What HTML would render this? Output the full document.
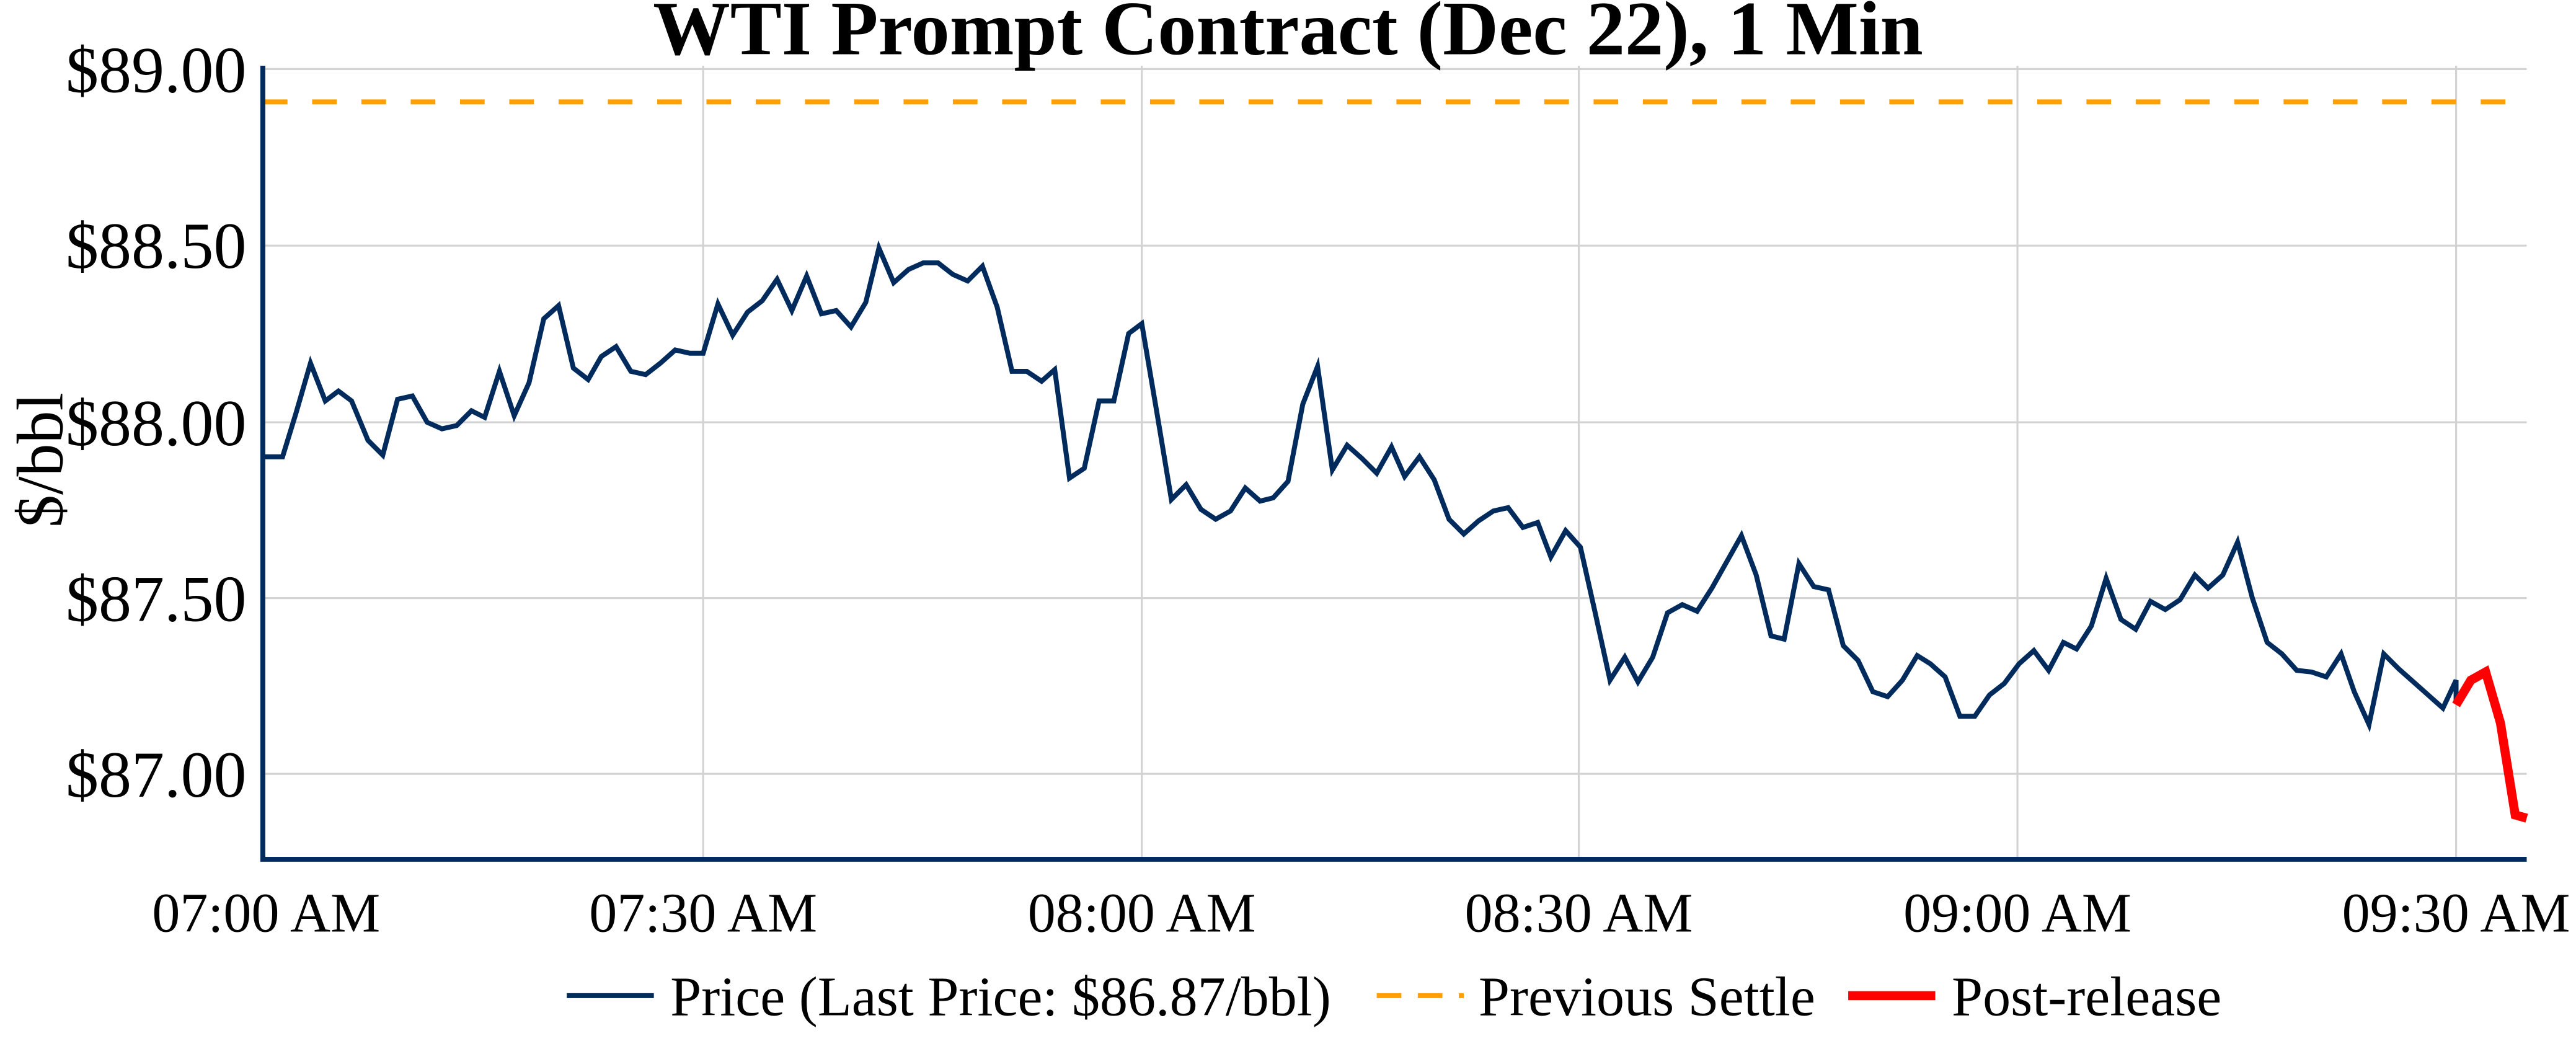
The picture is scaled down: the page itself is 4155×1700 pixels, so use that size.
<!DOCTYPE html>
<html><head><style>html,body{margin:0;padding:0;background:#fff}svg{display:block}</style></head>
<body>
<svg width="4155" height="1700" viewBox="0 0 1568 641.5" xmlns="http://www.w3.org/2000/svg" font-family="Liberation Serif, serif">
<rect width="1568" height="641.5" fill="#fff"/>
<g stroke="#d3d3d3" stroke-width="1.2">
<line x1="160" y1="42" x2="1538" y2="42"/><line x1="160" y1="149.5" x2="1538" y2="149.5"/><line x1="160" y1="257" x2="1538" y2="257"/><line x1="160" y1="364" x2="1538" y2="364"/><line x1="160" y1="471" x2="1538" y2="471"/>
<line x1="428" y1="40" x2="428" y2="523"/><line x1="695" y1="40" x2="695" y2="523"/><line x1="961" y1="40" x2="961" y2="523"/><line x1="1228" y1="40" x2="1228" y2="523"/><line x1="1495" y1="40" x2="1495" y2="523"/>
</g>
<line x1="160" y1="62" x2="1538" y2="62" stroke="#ffa000" stroke-width="3" stroke-dasharray="15,15"/>
<polyline fill="none" stroke="#002b5c" stroke-width="3" stroke-linejoin="miter" points="160,278 172,278 180,252 189,221 198,244 206,238 214,244 224,268 233,277 242,243 251,241 260,257 269,261 278,259 287,250 295,254 304,226 313,253 322,233 331,194 340,186 349,224 358,231 366,217 375,211 384,226 393,228 402,221 411,213 420,215 428,215 437,185 446,204 455,190 464,183 473,170 482,189 491,168 500,191 509,189 518,199 527,184 535,151 544,172 553,164 562,160 571,160 580,167 589,171 598,162 607,187 616,226 625,226 634,232 642,225 651,291 660,285 669,244 678,244 687,203 695,197 704,250 713,304 722,295 731,310 740,316 749,311 758,297 767,305 775,303 784,293 793,246 802,223 811,286 820,271 829,279 838,288 847,272 855,290 864,278 873,292 882,316 891,325 900,317 909,311 918,309 927,321 936,318 944,339 953,323 962,333 971,373 980,414 989,400 997,415 1006,400 1015,373 1024,368 1033,372 1042,358 1051,342 1060,326 1069,350 1078,387 1086,389 1095,343 1104,357 1113,359 1122,393 1131,402 1140,421 1149,424 1158,414 1167,399 1175,404 1184,412 1193,436 1202,436 1211,423 1220,416 1229,404 1238,396 1247,408 1256,391 1264,395 1273,381 1282,352 1291,377 1300,383 1309,366 1318,371 1327,365 1336,350 1344,358 1353,350 1362,330 1371,364 1380,391 1389,398 1398,408 1407,409 1416,412 1425,398 1433,421 1442,441 1451,398 1460,407 1469,415 1478,423 1487,431 1495,414 1495,428"/>
<polyline fill="none" stroke="#ff0000" stroke-width="5.5" points="1495,429 1504,414 1513,409 1522,440 1531,496 1538,498"/>
<line x1="160" y1="40" x2="160" y2="524" stroke="#002b5c" stroke-width="3"/>
<line x1="158.5" y1="523" x2="1538" y2="523" stroke="#002b5c" stroke-width="3"/>
<text x="784" y="33" text-anchor="middle" font-size="47" font-weight="bold">WTI Prompt Contract (Dec 22), 1 Min</text>
<g font-size="40" text-anchor="end">
<text x="150" y="56">$89.00</text><text x="150" y="163">$88.50</text><text x="150" y="271">$88.00</text><text x="150" y="378">$87.50</text><text x="150" y="485">$87.00</text>
</g>
<g font-size="34" text-anchor="middle">
<text x="162" y="567">07:00 AM</text><text x="428" y="567">07:30 AM</text><text x="695" y="567">08:00 AM</text><text x="961" y="567">08:30 AM</text><text x="1228" y="567">09:00 AM</text><text x="1495" y="567">09:30 AM</text>
</g>
<text transform="translate(38,280) rotate(-90)" font-size="40" text-anchor="middle">$/bbl</text>
<g font-size="34">
<line x1="345" y1="606" x2="398" y2="606" stroke="#002b5c" stroke-width="3"/>
<text x="408" y="618">Price (Last Price: $86.87/bbl)</text>
<line x1="838" y1="606" x2="891" y2="606" stroke="#ffa000" stroke-width="3" stroke-dasharray="15,10"/>
<text x="900" y="618">Previous Settle</text>
<line x1="1125" y1="606" x2="1178" y2="606" stroke="#ff0000" stroke-width="5.5"/>
<text x="1188" y="618">Post-release</text>
</g>
</svg>
</body></html>
